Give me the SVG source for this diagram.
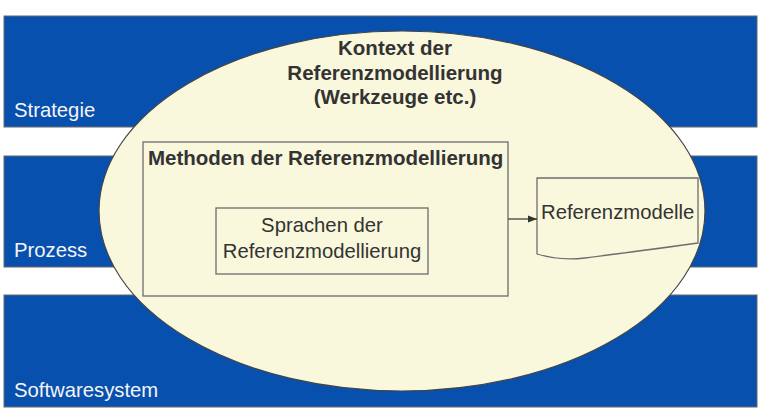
<svg xmlns="http://www.w3.org/2000/svg" width="780" height="419" viewBox="0 0 780 419">
<defs>
<style>
.band{fill:#0850ae;stroke:#666;stroke-width:1}
.bandtxt{font-family:"Liberation Sans",Arial,sans-serif;font-size:20.3px;fill:#f4f4f4}
.box{fill:#f9f7dc;stroke:#6e6e6e;stroke-width:1.3}
.txt{font-family:"Liberation Sans",Arial,sans-serif;font-size:20.3px;fill:#333}
.bold{font-weight:bold;font-size:20.5px}
</style>
<marker id="arr" markerWidth="10" markerHeight="8" refX="9" refY="4" orient="auto" markerUnits="userSpaceOnUse">
<path d="M0,0.5 L9,4 L0,7.5 Z" fill="#333"/>
</marker>
</defs>
<rect width="780" height="419" fill="#fff"/>
<g id="strategie">
<rect class="band" x="4" y="16" width="753" height="111"/>
<text class="bandtxt" x="14" y="117">Strategie</text>
</g>
<g id="prozess">
<rect class="band" x="4" y="156" width="753" height="111"/>
<text class="bandtxt" x="14" y="257">Prozess</text>
</g>
<g id="softwaresystem">
<rect class="band" x="4" y="295" width="753" height="112"/>
<text class="bandtxt" x="14" y="397">Softwaresystem</text>
</g>
<g id="kontext">
<ellipse cx="402" cy="211" rx="303" ry="180" fill="#f9f7dc" stroke="#444" stroke-width="1.2"/>
<text class="txt bold" text-anchor="middle" x="395" y="55">Kontext der</text>
<text class="txt bold" text-anchor="middle" x="395" y="80">Referenzmodellierung</text>
<text class="txt bold" text-anchor="middle" x="395" y="104">(Werkzeuge etc.)</text>
</g>
<g id="methoden">
<rect class="box" x="143" y="142" width="365" height="154"/>
<text class="txt bold" x="148" y="165">Methoden der Referenzmodellierung</text>
</g>
<g id="sprachen">
<rect class="box" x="216" y="208" width="212" height="66"/>
<text class="txt" text-anchor="middle" x="322" y="232">Sprachen der</text>
<text class="txt" text-anchor="middle" x="322" y="258">Referenzmodellierung</text>
</g>
<g id="referenzmodelle">
<path class="box" d="M537,178 H698 V243 Q610,255 585,258 Q560,261 537,254 Z"/>
<text class="txt" x="541" y="219">Referenzmodelle</text>
</g>
<g id="connectors">
<line x1="508" y1="219" x2="537" y2="219" stroke="#333" stroke-width="1.2" marker-end="url(#arr)"/>
</g>
</svg>
